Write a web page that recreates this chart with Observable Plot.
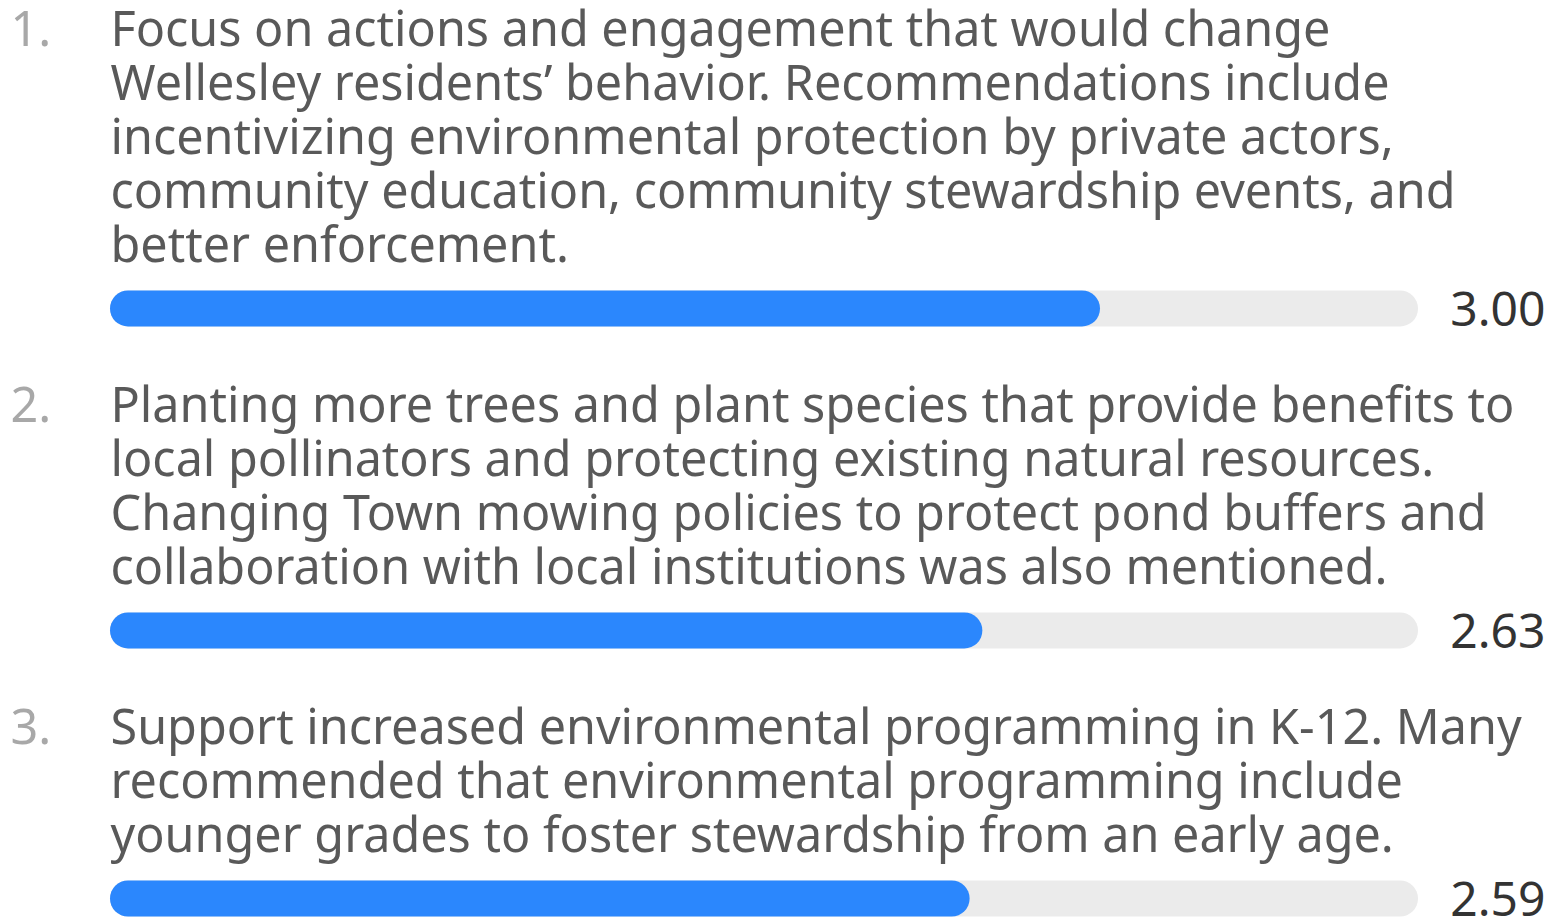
<!DOCTYPE html>
<html>
<head>
<meta charset="utf-8">
<script src="https://cdn.jsdelivr.net/npm/d3@7"></script>
<script src="https://cdn.jsdelivr.net/npm/@observablehq/plot@0.6"></script>
<style>
  html, body { margin: 0; padding: 0; background: #ffffff; }
  #chart svg { display: block; }
</style>
</head>
<body>
<div id="chart"></div>
<script>
// ---- data ----
const ranks = ["1.", "2.", "3."];
const labels = [
  "Focus on actions and engagement that would change\nWellesley residents\u2019 behavior. Recommendations include\nincentivizing environmental protection by private actors,\ncommunity education, community stewardship events, and\nbetter enforcement.",
  "Planting more trees and plant species that provide benefits to\nlocal pollinators and protecting existing natural resources.\nChanging Town mowing policies to protect pond buffers and\ncollaboration with local institutions was also mentioned.",
  "Support increased environmental programming in K-12. Many\nrecommended that environmental programming include\nyounger grades to foster stewardship from an early age."
];
const scores = [3.00, 2.63, 2.59];
const scoreLabels = ["3.00", "2.63", "2.59"];
const maxScore = 4;

// ---- layout in "line rows" ----
const BAR_GAP = 1.148;   // rows from last text line to bar
const ITEM_GAP = 1.815;  // rows from bar to next item's first line
const lineRows = [];
const items = [];
let cursor = 0;
labels.forEach((label, i) => {
  const lines = label.split("\n");
  lines.forEach((t, k) => lineRows.push({item: i, text: t, row: cursor + k}));
  const barRow = cursor + lines.length - 1 + BAR_GAP;
  items.push({rank: ranks[i], firstRow: cursor, barRow, score: scores[i], scoreLabel: scoreLabels[i], max: maxScore});
  cursor = barRow + ITEM_GAP;
});

const W = 1554, H = 919;
const ROW = 54, TOP = 30;
const totalRows = 20;

const fontFamily = "'Noto Sans', 'Open Sans', sans-serif";
const fs = 48.5;

const chart = Plot.plot({
  width: W,
  height: H,
  marginTop: 0,
  marginBottom: 0,
  marginLeft: 10,
  marginRight: 9,
  style: {fontFamily, background: "#ffffff", overflow: "visible"},
  x: {type: "linear", domain: [0, maxScore], range: [128, 1400], axis: null},
  y: {type: "linear", domain: [0, totalRows], range: [TOP, TOP + ROW * totalRows], axis: null},
  marks: [
    // track
    Plot.ruleY(items, {y: "barRow", x1: 0, x2: "max", stroke: "#ebebeb", strokeWidth: 36, strokeLinecap: "round"}),
    // value bar
    Plot.ruleY(items, {y: "barRow", x1: 0, x2: "score", stroke: "#2b87fd", strokeWidth: 36, strokeLinecap: "round"}),
    // value labels
    Plot.text(items, {y: "barRow", text: "scoreLabel", frameAnchor: "right", textAnchor: "end", fontSize: 48, fill: "#333333", dy: 2}),
    // rank numbers
    Plot.text(items, {y: "firstRow", text: "rank", frameAnchor: "left", textAnchor: "start", fontSize: fs, fill: "#a8a8a8"}),
    // label lines
    Plot.text(lineRows, {y: "row", text: "text", frameAnchor: "left", textAnchor: "start", dx: 100, fontSize: fs, fill: "#595959"})
  ]
});

document.getElementById("chart").appendChild(chart);
</script>
</body>
</html>
